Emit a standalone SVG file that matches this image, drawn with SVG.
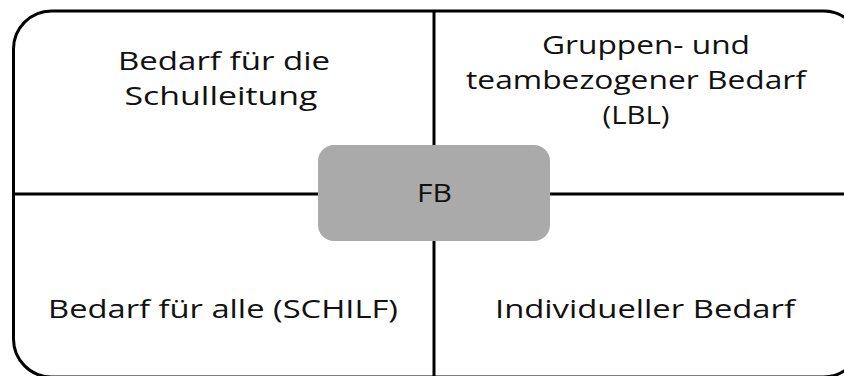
<svg xmlns="http://www.w3.org/2000/svg" width="844" height="376" viewBox="0 0 844 376">
<style>
.ln{stroke:#000;stroke-width:3;fill:none}
.t{font-family:"Open Sans","Noto Sans",sans-serif;font-size:25.5px;fill:#111;text-anchor:middle}
</style>
<rect width="844" height="376" fill="#fff"/>
<g id="frame"><rect class="ln" x="13.5" y="11" width="848" height="366" rx="38"/></g>
<g id="connectors">
<line class="ln" x1="434" y1="11" x2="434" y2="145"/>
<line class="ln" x1="434" y1="241" x2="434" y2="377"/>
<line class="ln" x1="13.5" y1="194" x2="318" y2="194"/>
<line class="ln" x1="550" y1="194" x2="844" y2="194"/>
</g>
<g id="q1"><text class="t" x="224" y="70" textLength="212" lengthAdjust="spacingAndGlyphs">Bedarf für die</text><text class="t" x="221" y="105" textLength="193" lengthAdjust="spacingAndGlyphs">Schulleitung</text></g>
<g id="q2"><text class="t" x="646" y="54" textLength="208" lengthAdjust="spacingAndGlyphs">Gruppen- und</text><text class="t" x="636" y="89" textLength="340" lengthAdjust="spacingAndGlyphs">teambezogener Bedarf</text><text class="t" x="636" y="124" textLength="67" lengthAdjust="spacingAndGlyphs">(LBL)</text></g>
<g id="q3"><text class="t" x="223" y="318" textLength="350" lengthAdjust="spacingAndGlyphs">Bedarf für alle (SCHILF)</text></g>
<g id="q4"><text class="t" x="645" y="318" textLength="300" lengthAdjust="spacingAndGlyphs">Individueller Bedarf</text></g>
<g id="fb"><rect x="318" y="145" width="232" height="96" rx="16" fill="#aaaaaa"/><text class="t" x="434.5" y="202" textLength="35" lengthAdjust="spacingAndGlyphs">FB</text></g>
</svg>
